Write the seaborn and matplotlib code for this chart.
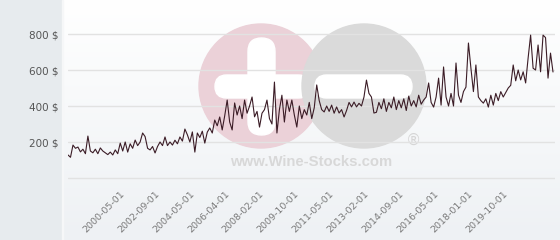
import numpy as np
import pandas as pd
import matplotlib
matplotlib.use("Agg")
import matplotlib.pyplot as plt
import seaborn as sns
from matplotlib.patches import Circle, FancyBboxPatch

# ---- data ----
prices = [
    128, 115, 183, 165, 172, 145, 160, 135, 233, 150, 140, 160, 135, 167,
    150, 140, 130, 144, 128, 156, 135, 194, 150, 200, 144, 190, 165, 211,
    180, 200, 250, 230, 165, 156, 175, 139, 175, 200, 180, 228, 180, 200,
    183, 210, 190, 228, 205, 272, 240, 200, 256, 144, 250, 225, 260, 194,
    255, 278, 250, 322, 290, 339, 267, 345, 433, 311, 267, 417, 350, 400,
    330, 433, 360, 400, 450, 340, 370, 283, 360, 380, 433, 330, 300, 533,
    250, 380, 460, 311, 433, 370, 433, 350, 283, 400, 330, 380, 350, 420,
    330, 390, 517, 430, 380, 367, 400, 370, 405, 360, 395, 361, 380, 339,
    375, 420, 395, 422, 395, 415, 400, 450, 544, 470, 450, 361, 365, 420,
    385, 440, 370, 420, 390, 450, 380, 430, 390, 440, 375, 455, 400, 430,
    395, 460, 410, 433, 450, 528, 420, 394, 450, 555, 405, 617, 450, 400,
    470, 400, 639, 460, 420, 480, 505, 750, 610, 480, 628, 450, 430, 416,
    440, 394, 460, 405, 470, 430, 480, 450, 475, 500, 515, 628, 540, 600,
    545, 590, 528, 667, 794, 610, 600, 739, 590, 794, 780, 555, 694, 589,
]
tick_labels = ["2000-05-01", "2002-09-01", "2004-05-01", "2006-04-01",
               "2008-02-01", "2009-10-01", "2011-05-01", "2013-02-01",
               "2014-09-01", "2016-05-01", "2018-01-01", "2019-10-01"]
tick_index = [21, 35, 49, 63, 77, 91, 105, 119, 133, 147, 161, 175]
y_ticks = [0, 200, 400, 600, 800]
y_labels = ["", "200 $", "400 $", "600 $", "800 $"]

df = pd.DataFrame({"idx": np.arange(len(prices)), "price": prices})

sns.set_theme(style="white")
plt.rcParams["font.family"] = ["DejaVu Sans"]

W, H = 560, 240
fig = plt.figure(figsize=(W / 100, H / 100), dpi=100)

# background / watermark axes in pixel coordinates
bg = fig.add_axes([0, 0, 1, 1], zorder=0)
bg.set_xlim(0, W)
bg.set_ylim(H, 0)
bg.axis("off")
grad = np.linspace(0, 1, 256).reshape(-1, 1)
cmap = matplotlib.colors.LinearSegmentedColormap.from_list("g", ["#ffffff", "#eef1f4"])
bg.imshow(grad, extent=[62, W, H, 0], aspect="auto", cmap=cmap, zorder=0)
bg.add_patch(plt.Rectangle((0, 0), 62, H, color="#e7ebee", zorder=1))
bg.add_patch(plt.Rectangle((62, 0), 1, H, color="#f6f7f8", zorder=1))

# watermark logo
bg.add_patch(Circle((261, 86), 62, color="#ebd1d8", zorder=2))
bg.add_patch(FancyBboxPatch((215, 75), 95, 23, boxstyle="round,pad=0,rounding_size=11.5",
                            color="#ffffff", zorder=3))
bg.add_patch(FancyBboxPatch((248, 38), 27, 97, boxstyle="round,pad=0,rounding_size=13.5",
                            color="#ffffff", zorder=3))
bg.add_patch(Circle((364, 86), 62, color="#dadada", zorder=4))
bg.add_patch(FancyBboxPatch((315, 75), 97, 23, boxstyle="round,pad=0,rounding_size=11.5",
                            color="#ffffff", zorder=5))
bg.text(413, 140, "®", fontsize=11, color="#d6d6d6", ha="center", va="center", zorder=5)
bg.text(311.5, 161.5, "www.Wine-Stocks.com", fontsize=10.7, fontweight="bold",
        family="Liberation Sans", color="#d8d8d8", ha="center", va="center", zorder=5)

# main axes
ax = fig.add_axes([68 / W, 1 - 180 / H, 487 / W, 180 / H], zorder=1)
ax.patch.set_alpha(0)
sns.lineplot(data=df, x="idx", y="price", ax=ax, color="#3b1c26", linewidth=0.8)
ax.set_xlim(0, (len(prices) - 1) * 487 / 485)
ax.set_ylim(-11.1, 989)
for s in ax.spines.values():
    s.set_visible(False)
ax.set_yticks(y_ticks)
ax.set_yticklabels(y_labels)
ax.yaxis.grid(True, color="#e2e2e2", linewidth=1)
ax.xaxis.grid(False)
ax.set_xticks(tick_index)
ax.set_xticklabels(tick_labels, rotation=45, ha="right", rotation_mode="anchor")
ax.tick_params(axis="y", length=0, pad=6.5, labelsize=7.5, labelcolor="#555555")
ax.tick_params(axis="x", length=0, pad=6.5, labelsize=6.8, labelcolor="#7a7a7a")
ax.set_xlabel("")
ax.set_ylabel("")

fig.savefig("out.png", dpi=100)
